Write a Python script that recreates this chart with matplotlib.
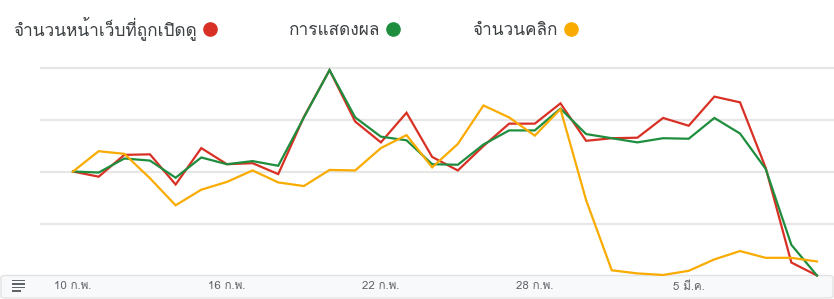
import matplotlib
matplotlib.use("Agg")
import matplotlib.pyplot as plt
from matplotlib import font_manager
from matplotlib.ft2font import FT2Font
from matplotlib.lines import Line2D
from matplotlib.patches import Rectangle, FancyBboxPatch

# ---------------- data ----------------
dates = list(range(30))  # 10 Feb .. 10 Mar (2024)
tick_idx = [0, 6, 12, 18, 24]
tick_labels = ["10 ก.พ.", "16 ก.พ.", "22 ก.พ.", "28 ก.พ.", "5 มี.ค."]
series_names = ["จำนวนหน้าเว็บที่ถูกเปิดดู", "การแสดงผล", "จำนวนคลิก"]

pageviews = [200, 190, 232, 233, 175, 245, 214, 216, 195, 305, 395, 296, 256, 313, 228,
             202, 249, 292, 292, 331, 259, 264, 265, 303, 288, 344, 333, 207, 25, 0]
impressions = [200, 198, 225, 221, 188, 227, 214, 220, 211, 304, 395, 304, 267, 260, 214,
               213, 252, 279, 279, 321, 272, 264, 256, 264, 263, 303, 273, 205, 59, 0]
clicks = [200, 239, 234, 187, 135, 165, 180, 202, 179, 172, 203, 202, 245, 270, 208,
          253, 327, 304, 269, 320, 145, 10, 4, 1, 9, 31, 47, 34, 34, 27]

colors = ["#d93025", "#1e8e3e", "#f9ab00"]

# ---------------- font ----------------
thai_family = None
preferred = []
for f in font_manager.fontManager.ttflist:
    try:
        cm = FT2Font(f.fname).get_charmap()
    except Exception:
        continue
    if 0x0E08 in cm and 0x0E33 in cm and 0x0E1E in cm:
        preferred.append(f.name)
for cand in preferred:
    if "Sans" in cand or "Loma" in cand or "Sarabun" in cand:
        thai_family = cand
        break
if thai_family is None and preferred:
    thai_family = preferred[0]
fams = ([thai_family] if thai_family else []) + ["DejaVu Sans"]
plt.rcParams["font.family"] = fams

W, H = 834, 299
fig = plt.figure(figsize=(W / 100, H / 100), dpi=100)

def fx(px):
    return px / W

def fy(py):
    return 1 - py / H

# axes: left 40px, right 834px, top 50px, bottom 275.5px
ax_left, ax_right, ax_top, ax_bot = 40, 834, 50, 275.5
ax = fig.add_axes([fx(ax_left), fy(ax_bot), fx(ax_right - ax_left), (ax_bot - ax_top) / H])
ax.set_zorder(2)
ax.patch.set_alpha(0)

step = (817 - 73) / 29.0
ax.set_xlim(-(73 - ax_left) / step, 29 + (ax_right - 817) / step)
ppu = (275.5 - 67.5) / 400.0
ax.set_ylim(0, (ax_bot - ax_top) / ppu)

for g in [100, 200, 300, 400]:
    ax.axhline(g, color="#e6e6e6", lw=1.6, zorder=0)

for vals, c in zip([pageviews, impressions, clicks], colors):
    ax.plot(dates, vals, color=c, lw=1.6, clip_on=False, zorder=3,
            solid_joinstyle="miter")

for s in ax.spines.values():
    s.set_visible(False)
ax.set_yticks([])
ax.set_xticks(tick_idx)
ax.set_xticklabels(tick_labels, fontsize=8.3, color="#5f6368")
ax.tick_params(axis="x", length=0, pad=4)

# bottom band
band = FancyBboxPatch((fx(1), fy(298)), fx(832), (298 - 275.5) / H,
                      boxstyle="round,pad=0,rounding_size=0.006",
                      transform=fig.transFigure, facecolor="#f8f9fa",
                      edgecolor="#e3e3e3", lw=1.0, zorder=-1)
fig.patches.append(band)

# menu icon
for i, yy in enumerate([280, 283.5, 287, 290.5]):
    wdt = 13 if i < 3 else 9
    fig.patches.append(Rectangle((fx(12), fy(yy + 1.2)), fx(wdt), 1.6 / H,
                                 transform=fig.transFigure, facecolor="#5f6368",
                                 edgecolor="none", zorder=5))

# legend
handles = [Line2D([], [], marker="o", linestyle="none", markersize=9.5,
                  markerfacecolor=c, markeredgecolor=c) for c in colors]
leg = fig.legend(handles, series_names, loc="center left",
                 bbox_to_anchor=(fx(13), fy(28)), ncol=3, frameon=False,
                 markerfirst=False, handlelength=0.8, handletextpad=0.35,
                 columnspacing=4.2, fontsize=12.4, borderaxespad=0, borderpad=0)
for t in leg.get_texts():
    t.set_color("#3c4043")

fig.savefig("out.png", dpi=100)
